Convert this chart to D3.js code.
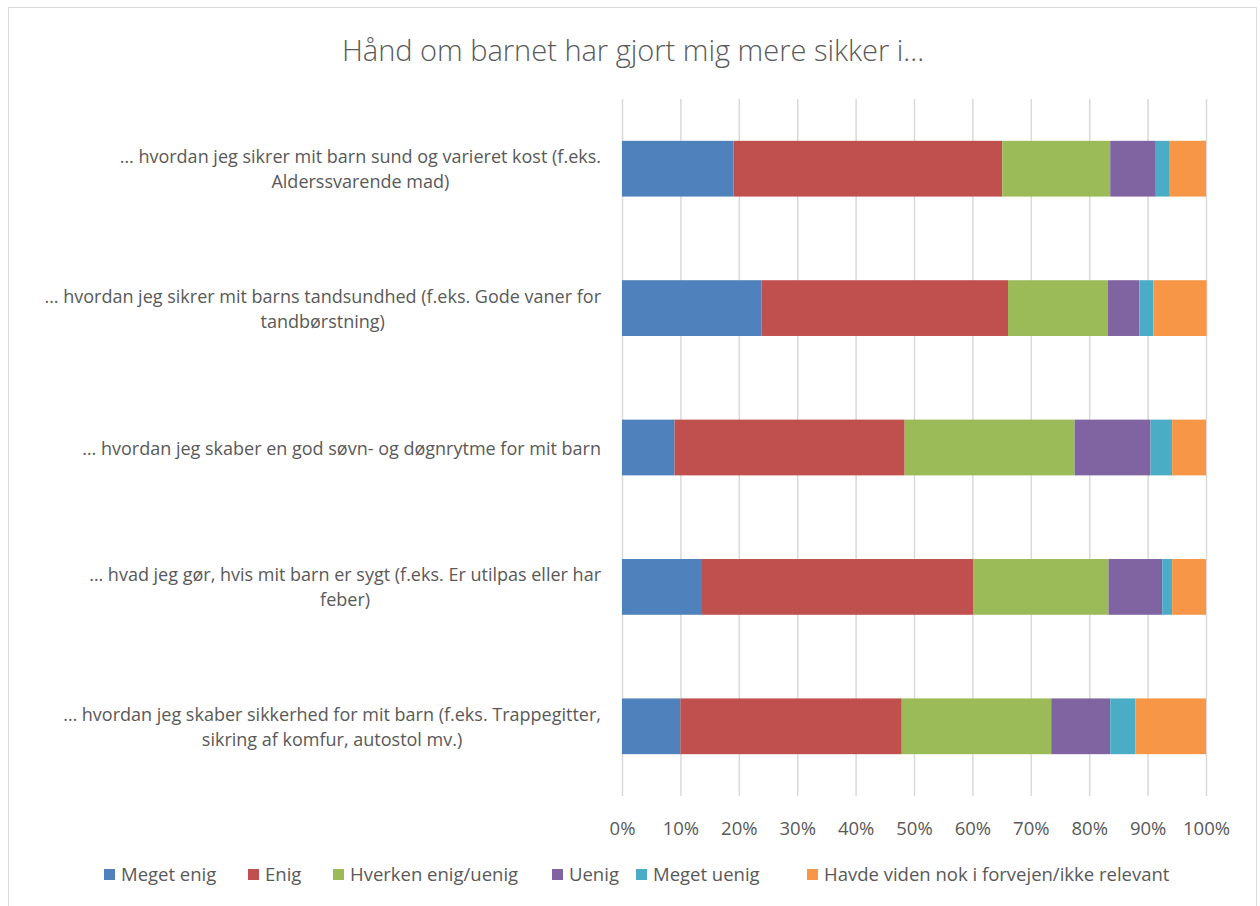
<!DOCTYPE html>
<html>
<head>
<meta charset="utf-8">
<script src="https://cdn.jsdelivr.net/npm/d3@7"></script>
<style>
  body { margin: 0; background: #fff; }
  text { font-family: "Open Sans", sans-serif; fill: #595959; }
</style>
</head>
<body>
<div id="vis"></div>
<script>
// Data (percent of respondents)
var categories = [
    ["… hvordan jeg sikrer mit barn sund og varieret kost (f.eks.", "Alderssvarende mad)"],
    ["… hvordan jeg sikrer mit barns tandsundhed (f.eks. Gode vaner for", "tandbørstning)"],
    ["… hvordan jeg skaber en god søvn- og døgnrytme for mit barn"],
    ["… hvad jeg gør, hvis mit barn er sygt (f.eks. Er utilpas eller har", "feber)"],
    ["… hvordan jeg skaber sikkerhed for mit barn (f.eks. Trappegitter,", "sikring af komfur, autostol mv.)"]
];
var seriesNames = ["Meget enig", "Enig", "Hverken enig/uenig", "Uenig", "Meget uenig", "Havde viden nok i forvejen/ikke relevant"];
var megetEnig  = [19.1, 23.9,  9.0, 13.7, 10.0];
var enig       = [46.0, 42.2, 39.4, 46.4, 37.9];
var hverken    = [18.5, 17.1, 29.1, 23.2, 25.6];
var uenig      = [ 7.8,  5.4, 13.0,  9.2, 10.1];
var megetUenig = [ 2.4,  2.4,  3.7,  1.7,  4.3];
var havdeViden = [ 6.2,  9.1,  5.8,  5.8, 12.1];
var tickValues = [0, 10, 20, 30, 40, 50, 60, 70, 80, 90, 100];
var colors = ["#4F81BD", "#C0504D", "#9BBB59", "#8064A2", "#4BACC6", "#F79646"];

var width = 1260,
    height = 906,
    margin = {top: 99, right: 54, bottom: 110, left: 622};

var drawWidth = width - margin.left - margin.right;
var drawHeight = height - margin.top - margin.bottom;

var svg = d3.select("#vis").append("svg")
    .attr("width", width)
    .attr("height", height);

// chart frame
svg.append("rect")
    .attr("x", 8.5).attr("y", 7.5)
    .attr("width", 1248).attr("height", 910)
    .attr("fill", "none")
    .attr("stroke", "#d9d9d9");

svg.append("text")
    .attr("x", 633).attr("y", 61)
    .attr("text-anchor", "middle")
    .style("font-size", "29px")
    .style("font-weight", 300)
    .text("Hånd om barnet har gjort mig mere sikker i...");

var table = categories.map(function(c, i) {
    return {
        idx: i,
        "Meget enig": megetEnig[i],
        "Enig": enig[i],
        "Hverken enig/uenig": hverken[i],
        "Uenig": uenig[i],
        "Meget uenig": megetUenig[i],
        "Havde viden nok i forvejen/ikke relevant": havdeViden[i]
    };
});

var stacked = d3.stack().keys(seriesNames)(table);

var x = d3.scaleLinear().domain([0, 100]).range([0, drawWidth]);
var y = d3.scaleBand().domain(d3.range(categories.length)).range([0, drawHeight]).paddingInner(0.6).paddingOuter(0.3);

var g = svg.append("g").attr("transform", "translate(" + margin.left + "," + margin.top + ")");

// gridlines
g.append("g")
    .attr("class", "grid")
    .call(d3.axisBottom(x).tickValues(tickValues).tickSize(drawHeight).tickFormat(""))
    .call(function(s) {
        s.select(".domain").remove();
        s.selectAll("line").attr("stroke", "#d9d9d9").attr("stroke-width", 1.5);
    });

// bars
g.selectAll(".series")
    .data(stacked)
    .enter().append("g")
    .attr("class", "series")
    .attr("fill", function(d, i) { return colors[i]; })
    .selectAll("rect")
    .data(function(d) { return d; })
    .enter().append("rect")
    .attr("x", function(d) { return x(d[0]); })
    .attr("y", function(d) { return y(d.data.idx); })
    .attr("width", function(d) { return x(d[1]) - x(d[0]); })
    .attr("height", y.bandwidth());

// x axis labels
g.append("g")
    .attr("transform", "translate(0," + drawHeight + ")")
    .call(d3.axisBottom(x).tickValues(tickValues).tickSize(0).tickPadding(26).tickFormat(function(d) { return d + "%"; }))
    .call(function(s) {
        s.select(".domain").remove();
        s.selectAll("text").style("font-size", "18.5px").attr("fill", "#595959")
            .style("font-family", "'Open Sans', sans-serif");
    });

// category labels: block right-aligned, lines centred within it
var labelRight = 601, lineH = 25;
categories.forEach(function(lines, i) {
    var t = svg.append("text").style("font-size", "18px").attr("text-anchor", "middle");
    var spans = lines.map(function(l) { return t.append("tspan").text(l); });
    var maxW = d3.max(spans, function(s) { return s.node().getComputedTextLength(); });
    var cy = margin.top + y(i) + y.bandwidth() / 2;
    var y0 = cy - (lines.length - 1) * lineH / 2 + 7;
    spans.forEach(function(s, k) {
        s.attr("x", labelRight - maxW / 2).attr("y", y0 + k * lineH);
    });
});

// legend
var legendX = [104, 248, 333, 552, 636, 807];
var legend = svg.append("g").attr("class", "legend");
seriesNames.forEach(function(name, i) {
    legend.append("rect")
        .attr("x", legendX[i]).attr("y", 869)
        .attr("width", 11).attr("height", 11)
        .attr("fill", colors[i]);
    legend.append("text")
        .attr("x", legendX[i] + 17).attr("y", 881)
        .style("font-size", "18.5px")
        .text(name);
});
</script>
</body>
</html>
